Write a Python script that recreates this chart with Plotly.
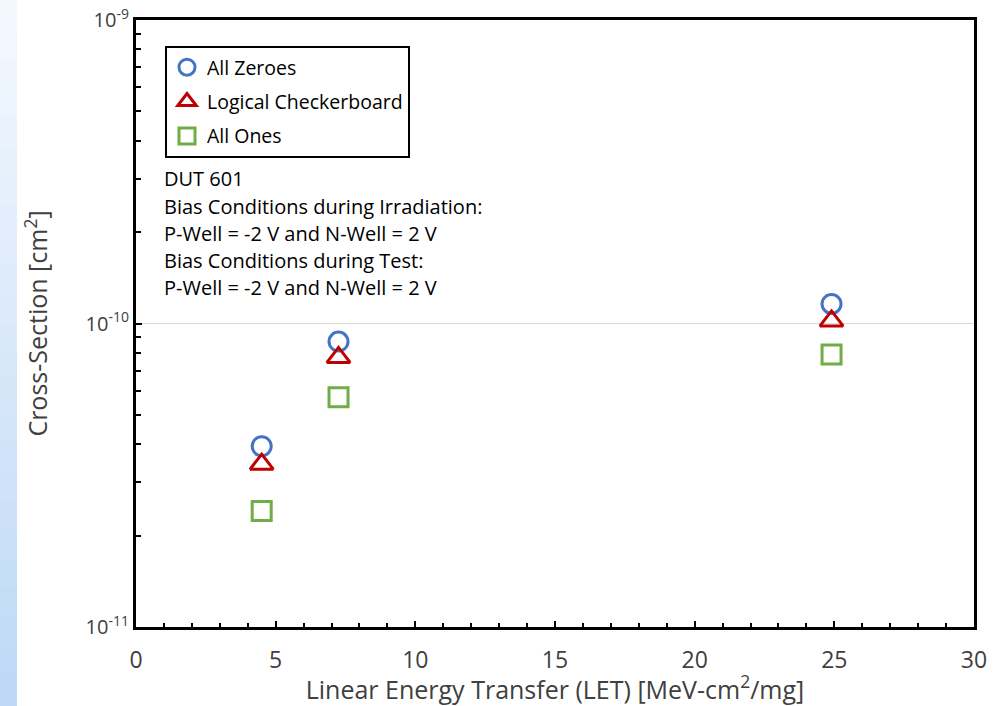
import plotly.graph_objects as go

# Data
let_values = [4.5, 7.25, 24.9]
all_zeroes = [3.94e-11, 8.72e-11, 1.16e-10]
checkerboard = [3.44e-11, 7.73e-11, 1.02e-10]
all_ones = [2.41e-11, 5.71e-11, 7.91e-11]

series_names = ["All Zeroes", "Logical Checkerboard", "All Ones"]
series_colors = ["#4472C4", "#C00000", "#70AD47"]
series_symbols = ["circle-open", "triangle-up-open", "square-open"]
series_values = [all_zeroes, checkerboard, all_ones]

y_major = [1e-11, 1e-10, 1e-9]
y_major_text = ["10<sup>-11</sup>", "10<sup>-10</sup>", "10<sup>-9</sup>"]
y_minor = [m * 10.0 ** e for e in (-11, -10) for m in range(2, 10)]

note_lines = [
    "DUT 601",
    "Bias Conditions during Irradiation:",
    "P-Well = -2 V and N-Well = 2 V",
    "Bias Conditions during Test:",
    "P-Well = -2 V and N-Well = 2 V",
]

FONT = "Open Sans"
TXT = "#404040"

fig = go.Figure()
for i, (name, col, sym, vals) in enumerate(zip(series_names, series_colors, series_symbols, series_values)):
    fig.add_trace(go.Scatter(
        x=let_values, y=vals, mode="markers", name=name,
        legendgroup=f"g{i}",
        marker=dict(symbol=sym, size=20 if sym == "triangle-up-open" else 19,
                    color=col, line=dict(width=3, color=col)),
    ))

W, H = 994, 706
ml, mr, mt, mb = 136, 20, 20, 79
pw = W - ml - mr
ph = H - mt - mb

# light blue gradient strip at left edge (decoration)
shapes = []
nb = 24
top_c = (243, 248, 254)
bot_c = (190, 216, 246)
for k in range(nb):
    t = k / (nb - 1)
    c = tuple(int(round(top_c[j] + (bot_c[j] - top_c[j]) * t)) for j in range(3))
    y1 = 1 + mt / ph - k * (H / nb) / ph
    y0 = y1 - (H / nb) / ph - 0.002
    shapes.append(dict(type="rect", xref="paper", yref="paper",
                       x0=-ml / pw - 0.01, x1=(17 - ml) / pw, y0=y0, y1=y1,
                       fillcolor="rgb(%d,%d,%d)" % c, line=dict(width=0), layer="below"))

annotations = []
line_y = [179, 206, 233, 260, 287]
for txt, py in zip(note_lines, line_y):
    annotations.append(dict(
        text=txt, xref="paper", yref="paper",
        x=(162 - ml) / pw, y=1 - (py - mt) / ph,
        xanchor="left", yanchor="middle", showarrow=False,
        font=dict(family=FONT, size=20, color="#000000"),
    ))

fig.update_layout(
    width=W, height=H,
    margin=dict(l=ml, r=mr, t=mt, b=mb, autoexpand=False),
    paper_bgcolor="white", plot_bgcolor="white",
    font=dict(family=FONT, color=TXT),
    showlegend=True,
    legend=dict(
        x=(165 - ml) / pw, y=1 - (46 - mt) / ph, xanchor="left", yanchor="top",
        bgcolor="white", bordercolor="black", borderwidth=2,
        font=dict(family=FONT, size=19.5, color="#000000"),
        tracegroupgap=6, itemwidth=30,
    ),
    shapes=shapes,
    annotations=annotations,
    xaxis=dict(
        range=[0, 30], dtick=5, tick0=0, automargin=False,
        showline=True, linewidth=3, linecolor="black", mirror=True,
        ticks="inside", ticklen=6, tickwidth=2, tickcolor="black",
        minor=dict(dtick=1, ticks="inside", ticklen=4, tickwidth=2, tickcolor="black", showgrid=False),
        showgrid=False, zeroline=False,
        ticklabelstandoff=10,
        tickfont=dict(family=FONT, size=23, color=TXT),
        title=dict(text="Linear Energy Transfer (LET) [MeV-cm<sup>2</sup>/mg]",
                   font=dict(family=FONT, size=25, color=TXT), standoff=0),
    ),
    yaxis=dict(
        type="log", range=[-11, -9], automargin=False,
        tickvals=y_major, ticktext=y_major_text,
        showline=True, linewidth=3, linecolor="black", mirror=True,
        ticks="inside", ticklen=6, tickwidth=2, tickcolor="black",
        minor=dict(tickvals=y_minor, ticks="inside", ticklen=5, tickwidth=2, tickcolor="black", showgrid=False),
        showgrid=True, gridcolor="#d9d9d9", gridwidth=1,
        zeroline=False,
        tickfont=dict(family=FONT, size=20, color=TXT),
        title=dict(text="Cross-Section [cm<sup>2</sup>]",
                   font=dict(family=FONT, size=25, color=TXT), standoff=31),
    ),
)

fig.write_html("out.html", config={"displayModeBar": False},
               post_script="document.body.style.margin='0';")
